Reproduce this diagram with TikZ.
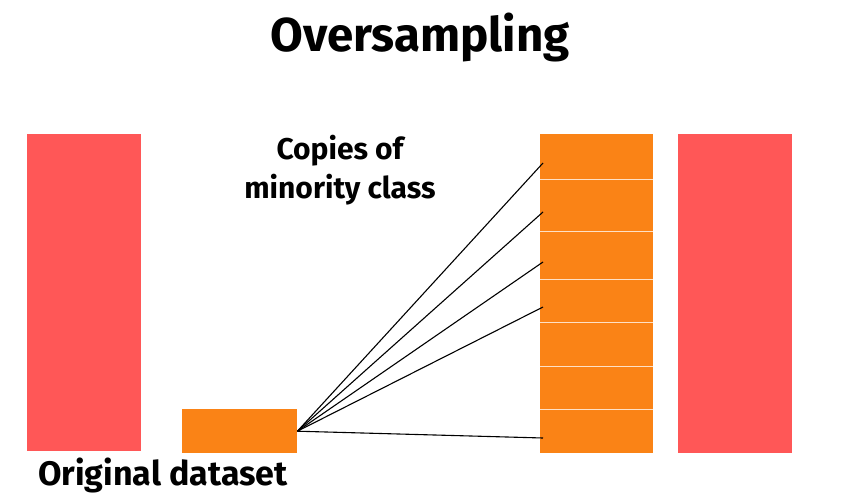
\documentclass[tikz,border=0pt]{standalone}
\usepackage{fontspec}
\setmainfont{Fira Sans}
\definecolor{redbar}{HTML}{FF5757}
\definecolor{orbar}{HTML}{FA8316}
\begin{document}
\begin{tikzpicture}[x=1pt,y=-1pt,
  redbox/.style={fill=redbar,draw=none},
  orbox/.style={fill=orbar,draw=none},
  seg/.style={draw=white!75!orbar,line width=0.8pt},
  link/.style={draw=black,line width=1.1pt},
  lbl/.style={font=\bfseries,text=black,inner sep=0pt,align=center}]
\useasboundingbox (0,0) rectangle (857,503);
% bars
\path[redbox] (27,134) rectangle (141,451);
\path[redbox] (678,134) rectangle (792,453);
\node[orbox,minimum width=115pt,minimum height=44pt,inner sep=0pt,anchor=north west] (small) at (182,409) {};
\path[orbox] (540,134) rectangle (653,453);
\foreach \yy in {179,231,279,322,366,409}{
  \draw[seg] (540,\yy) -- (653,\yy);
}
% endpoints
\coordinate (src) at (small.east);
\coordinate (c1) at (543,163);
\coordinate (c2) at (543,212);
\coordinate (c3) at (543,262);
\coordinate (c4) at (543,307);
\coordinate (c5) at (543,438);
\foreach \c in {c1,c2,c3,c4,c5}{
  \draw[link] (src) -- (\c);
}
% texts
\node[lbl,font=\bfseries\fontsize{47.5}{50}\selectfont] (title) at (420,38) {Oversampling};
\node[lbl,font=\bfseries\fontsize{30}{39}\selectfont] (copies) at (340,170) {Copies of\\minority class};
\node[lbl,font=\bfseries\fontsize{34}{38}\selectfont,anchor=west] (orig) at (38,475) {Original dataset};
\end{tikzpicture}
\end{document}
